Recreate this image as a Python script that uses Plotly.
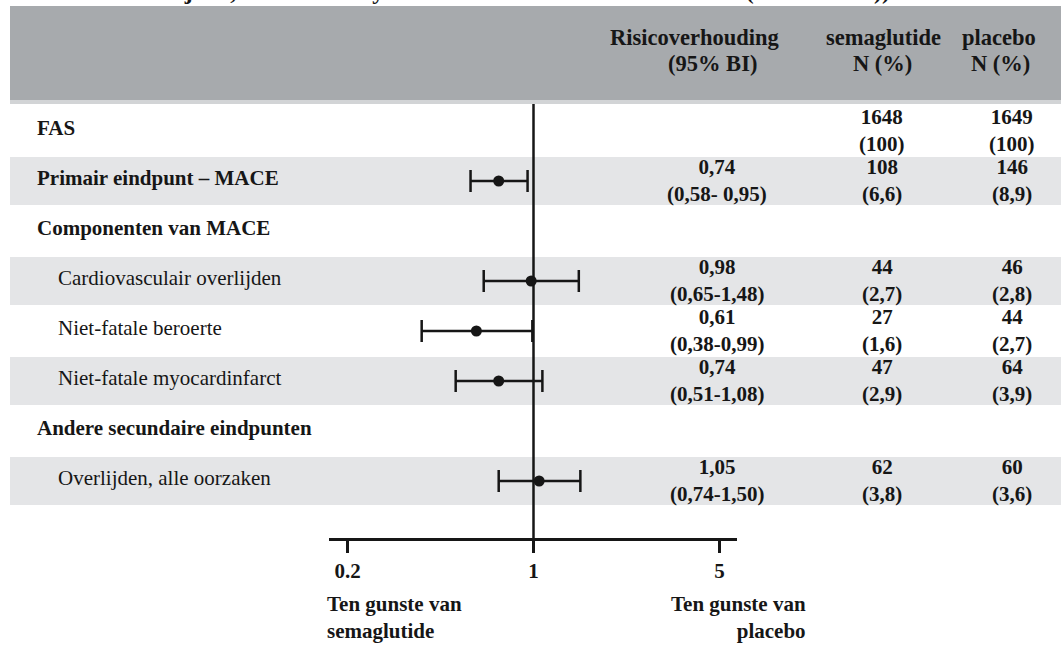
import math
import plotly.graph_objects as go

W, H = 1061, 646

# ---------------- data ----------------
row_labels = [
    "FAS",
    "Primair eindpunt – MACE",
    "Componenten van MACE",
    "Cardiovasculair overlijden",
    "Niet-fatale beroerte",
    "Niet-fatale myocardinfarct",
    "Andere secundaire eindpunten",
    "Overlijden, alle oorzaken",
]
row_bold = [True, True, True, False, False, False, True, False]

hr = [None, 0.74, None, 0.98, 0.61, 0.74, None, 1.05]
ci_low = [None, 0.58, None, 0.65, 0.38, 0.51, None, 0.74]
ci_high = [None, 0.95, None, 1.48, 0.99, 1.08, None, 1.50]
hr_text = ["", "0,74", "", "0,98", "0,61", "0,74", "", "1,05"]
ci_text = ["", "(0,58- 0,95)", "", "(0,65-1,48)", "(0,38-0,99)", "(0,51-1,08)", "", "(0,74-1,50)"]

sema_n = ["1648", "108", "", "44", "27", "47", "", "62"]
sema_pct = ["(100)", "(6,6)", "", "(2,7)", "(1,6)", "(2,9)", "", "(3,8)"]
plac_n = ["1649", "146", "", "46", "44", "64", "", "60"]
plac_pct = ["(100)", "(8,9)", "", "(2,8)", "(2,7)", "(3,9)", "", "(3,6)"]

tick_vals = [0.2, 1, 5]
tick_text = ["0.2", "1", "5"]

header_rr = ["Risicoverhouding", "(95% BI)"]
header_sema = ["semaglutide", "N (%)"]
header_plac = ["placebo", "N (%)"]
favour_left = ["Ten gunste van", "semaglutide"]
favour_right = ["Ten gunste van", "placebo"]
title_text = "cardiovasculair overlijden, niet-fatale myocardinfarct of niet-fatale beroerte (SUSTAIN 6))"

# ---------------- styling helpers ----------------
FONT = "Liberation Serif, Times New Roman, serif"
INK = "#161616"
BAND = "#e4e5e7"
HEAD = "#a7aaad"


def px(xp):
    return xp / W


def py(yp):
    return 1 - yp / H


n_rows = len(row_labels)
row_top_px, axis_px = 104, 538
row_h = 50.0
y_top = -(131 - row_top_px) / row_h
y_bot = y_top + (axis_px - row_top_px) / row_h

fig = go.Figure()

idx = [i for i in range(n_rows) if hr[i] is not None]
fig.add_trace(go.Scatter(
    x=[hr[i] for i in idx],
    y=idx,
    mode="markers",
    marker=dict(size=11, color=INK),
    error_x=dict(
        type="data", symmetric=False,
        array=[ci_high[i] - hr[i] for i in idx],
        arrayminus=[hr[i] - ci_low[i] for i in idx],
        thickness=2.5, width=11, color=INK,
    ),
    showlegend=False, hoverinfo="skip", cliponaxis=False,
))

shapes = []
# header band
shapes.append(dict(type="rect", xref="paper", yref="paper", x0=px(10), x1=1,
                   y0=py(100), y1=py(6), fillcolor=HEAD, line=dict(width=0), layer="below"))
shapes.append(dict(type="rect", xref="paper", yref="paper", x0=px(10), x1=1,
                   y0=py(104), y1=py(100), fillcolor="#d2d4d6", line=dict(width=0), layer="below"))
# alternating row bands
for i in range(n_rows):
    if i % 2 == 1:
        shapes.append(dict(type="rect", xref="paper", yref="y", x0=px(10), x1=1,
                           y0=i - 0.48, y1=i + 0.48, fillcolor=BAND,
                           line=dict(width=0), layer="below"))
# reference line at 1
shapes.append(dict(type="line", xref="x", yref="paper", x0=1, x1=1,
                   y0=py(axis_px), y1=py(row_top_px), line=dict(color=INK, width=2.5),
                   layer="below"))

ann = []
base = dict(showarrow=False)
dfont = dict(family=FONT, size=21, color=INK, weight="bold")

for i, lab in enumerate(row_labels):
    ann.append(dict(base, xref="paper", yref="y", x=px(35 if row_bold[i] else 56), y=i - 0.06,
                    xanchor="left", yanchor="middle", text=lab,
                    font=dict(family=FONT, size=21, color=INK,
                              weight="bold" if row_bold[i] else "normal")))
    if hr_text[i]:
        ann.append(dict(base, xref="paper", yref="y", x=px(717), y=i - 0.02, xanchor="center",
                        yanchor="middle", text=hr_text[i] + "<br>" + ci_text[i], font=dfont))
    if sema_n[i]:
        ann.append(dict(base, xref="paper", yref="y", x=px(882), y=i - 0.02, xanchor="center",
                        yanchor="middle", text=sema_n[i] + "<br>" + sema_pct[i], font=dfont))
    if plac_n[i]:
        ann.append(dict(base, xref="paper", yref="y", x=px(1012), y=i - 0.02, xanchor="center",
                        yanchor="middle", text=plac_n[i] + "<br>" + plac_pct[i], font=dfont))

hfont = dict(family=FONT, size=22.5, color=INK, weight="bold")
for (xc1, xc2), txts in [((695, 712), header_rr), ((883, 882), header_sema), ((999, 1000), header_plac)]:
    ann.append(dict(showarrow=False, xref="paper", yref="paper", x=px(xc1), y=py(37),
                    xanchor="center", yanchor="middle", text=txts[0], font=hfont))
    ann.append(dict(showarrow=False, xref="paper", yref="paper", x=px(xc2), y=py(63),
                    xanchor="center", yanchor="middle", text=txts[1], font=hfont))

ffont = dict(family=FONT, size=21, color=INK, weight="bold")
ann.append(dict(showarrow=False, xref="paper", yref="paper", x=px(325), y=py(617),
                xanchor="left", yanchor="middle", align="left",
                text="<br>".join(favour_left), font=ffont))
ann.append(dict(showarrow=False, xref="paper", yref="paper", x=px(808), y=py(617),
                xanchor="right", yanchor="middle", align="right",
                text="<br>".join(favour_right), font=ffont))

ann.append(dict(showarrow=False, xref="paper", yref="paper", x=px(-40), y=py(-9),
                xanchor="left", yanchor="middle", text=title_text,
                font=dict(family=FONT, size=24, color=INK, weight="bold")))

# log axis geometry: 1 at x=533.5 px, 0.2 at 348, 5 at 720
pxd = (720 - 348) / (math.log10(5) - math.log10(0.2))
ax_l, ax_r = 329, 737
rng = [(ax_l - 533.5) / pxd, (ax_r - 533.5) / pxd]

fig.update_layout(
    width=W, height=H,
    margin=dict(l=0, r=0, t=0, b=0),
    paper_bgcolor="white", plot_bgcolor="rgba(0,0,0,0)",
    shapes=shapes, annotations=ann,
    xaxis=dict(
        type="log", range=rng, domain=[px(ax_l), px(ax_r)],
        showline=True, linewidth=3, linecolor=INK,
        ticks="outside", ticklen=12, tickwidth=2.5, tickcolor=INK,
        tickvals=tick_vals, ticktext=tick_text,
        tickfont=dict(family=FONT, size=21, color=INK, weight="bold"),
        showgrid=False, zeroline=False, fixedrange=True,
    ),
    yaxis=dict(
        range=[y_bot, y_top], domain=[py(axis_px), py(row_top_px)],
        visible=False, fixedrange=True,
    ),
    showlegend=False,
)

fig.write_html(
    "out.html",
    config={"displayModeBar": False},
    post_script="document.body.style.margin='0';document.body.style.padding='0';",
)
